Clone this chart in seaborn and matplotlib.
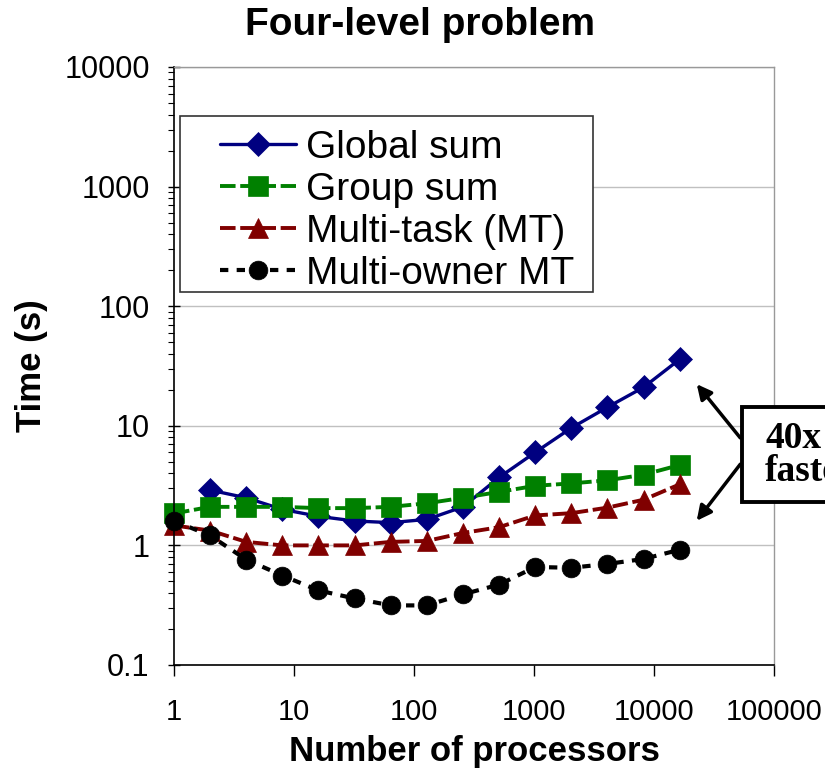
import numpy as np
import pandas as pd
import matplotlib
matplotlib.use('Agg')
import matplotlib.pyplot as plt
import matplotlib.patches as patches
import seaborn as sns

# data
procs = [1, 2, 4, 8, 16, 32, 64, 128, 256, 512, 1024, 2048, 4096, 8192, 16384]
global_procs = procs[1:]
global_sum = [2.9, 2.5, 2.0, 1.75, 1.6, 1.55, 1.65, 2.1, 3.7, 6.0, 9.6, 14.3, 21.0, 36.0]
group_sum = [1.85, 2.1, 2.1, 2.1, 2.05, 2.05, 2.1, 2.25, 2.5, 2.8, 3.15, 3.3, 3.5, 3.9, 4.7]
multi_task = [1.47, 1.33, 1.07, 1.0, 1.0, 1.0, 1.07, 1.09, 1.27, 1.42, 1.78, 1.86, 2.07, 2.41, 3.24]
multi_owner = [1.6, 1.21, 0.76, 0.56, 0.42, 0.36, 0.315, 0.315, 0.39, 0.47, 0.66, 0.65, 0.70, 0.77, 0.92]

x_ticks = [1, 10, 100, 1000, 10000, 100000]
x_tick_labels = ['1', '10', '100', '1000', '10000', '100000']
y_ticks = [0.1, 1, 10, 100, 1000, 10000]
y_tick_labels = ['0.1', '1', '10', '100', '1000', '10000']

sns.set_theme(style='white', rc={'text.color': 'black', 'axes.labelcolor': 'black',
                                 'xtick.color': 'black', 'ytick.color': 'black'})
plt.rcParams['font.family'] = ['Liberation Sans', 'DejaVu Sans']

W, H = 825, 770
fig = plt.figure(figsize=(W / 100, H / 100), dpi=100)
ax = fig.add_axes([174 / W, 1 - 665 / H, 600 / W, 598 / H])
ax.set_xscale('log')
ax.set_yscale('log')

# series: (x, y, label, colour, marker, size, line width, dashes in linewidths)
series = [
    (global_procs, global_sum, 'Global sum', '#000080', 'D', 12.5, 2.4, None),
    (procs, group_sum, 'Group sum', '#008000', 's', 14, 2.8, (4, 1.2)),
    (procs, multi_task, 'Multi-task (MT)', '#800000', '^', 14, 2.8, (4, 1.2)),
    (procs, multi_owner, 'Multi-owner MT', '#000000', 'o', 13.5, 3.0, (2, 2)),
]
for xs, ys, lab, col, mk, ms, lw, dash in series:
    sns.lineplot(x=xs, y=ys, ax=ax, color=col, marker=mk, markersize=ms,
                 markeredgecolor=col, markeredgewidth=0.5, linewidth=lw,
                 label=lab, clip_on=False)
    if dash is not None:
        ax.lines[-1].set_dashes(dash)

ax.set_xlim(1, 100000)
ax.set_ylim(0.1, 10000)
ax.set_xticks(x_ticks)
ax.set_xticklabels(x_tick_labels)
ax.set_yticks(y_ticks)
ax.set_yticklabels(y_tick_labels)
ax.xaxis.set_minor_locator(matplotlib.ticker.NullLocator())
ax.yaxis.set_minor_locator(matplotlib.ticker.LogLocator(base=10, subs=np.arange(2, 10)))
ax.yaxis.set_minor_formatter(matplotlib.ticker.NullFormatter())

ax.tick_params(axis='x', which='major', direction='out', length=8, width=1,
               labelsize=21, pad=16, bottom=True)
ax.tick_params(axis='y', which='major', direction='inout', length=9, width=1,
               labelsize=22, pad=13, left=True)
ax.tick_params(axis='y', which='minor', direction='out', length=4, width=0.8, left=True)

ax.grid(axis='y', which='major', color='#c0c0c0', linewidth=1)
ax.grid(axis='x', visible=False)
for side in ['left', 'bottom']:
    ax.spines[side].set_color('black')
    ax.spines[side].set_linewidth(1.2)
for side in ['top', 'right']:
    ax.spines[side].set_color('#999999')
    ax.spines[side].set_linewidth(1)

ax.set_xlabel('Number of processors', fontsize=25, fontweight='bold', labelpad=6)
ax.set_ylabel('Time (s)', fontsize=25, fontweight='bold', labelpad=12)
fig.text(420 / W, 1 - 25 / H, 'Four-level problem', fontsize=28, fontweight='bold',
         ha='center', va='center')

# legend box drawn separately so the inner padding can match the reference
ax.add_patch(patches.Rectangle((6 / 600, 373 / 598), 413 / 600, 176 / 598,
                               transform=ax.transAxes, facecolor='white',
                               edgecolor='#333333', linewidth=1.2, zorder=4))
leg = ax.legend(loc='upper left', bbox_to_anchor=(46 / 600, 535 / 598), fontsize=28,
                frameon=False, handlelength=1.95, handletextpad=0.25,
                labelspacing=0.15, borderpad=0, borderaxespad=0)
leg.set_zorder(5)


def px(x, y):
    return (x / W, 1 - y / H)


# "40x faster" callout
box = patches.Rectangle(px(742, 502), 120 / W, 95 / H, transform=fig.transFigure,
                        facecolor='white', edgecolor='black', linewidth=2.8,
                        clip_on=False, zorder=5)
fig.patches.append(box)
fig.text(*px(765, 448), '40x', fontsize=27, fontweight='bold',
         family=['Liberation Serif', 'DejaVu Serif'], ha='left', va='baseline', zorder=6)
fig.text(*px(765, 481), 'faster', fontsize=27, fontweight='bold',
         family=['Liberation Serif', 'DejaVu Serif'], ha='left', va='baseline', zorder=6)
for start, end in [((742, 440), (695, 382)), ((742, 462), (695, 523))]:
    fig.add_artist(patches.FancyArrowPatch(px(*start), px(*end), transform=fig.transFigure,
                                           arrowstyle='-|>', mutation_scale=22,
                                           color='black', linewidth=2.5))

fig.savefig('out.png', dpi=100)
